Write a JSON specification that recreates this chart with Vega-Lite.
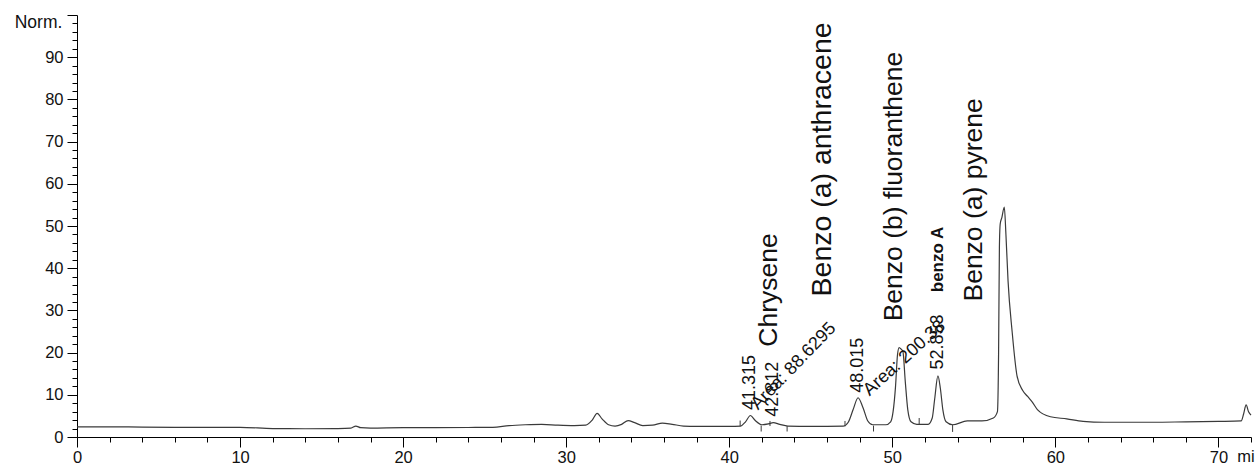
{
  "$schema": "https://vega.github.io/schema/vega-lite/v6.json",
  "width": 1174,
  "height": 422,
  "autosize": {"type": "none"},
  "padding": {"left": 77, "top": 15, "right": 4, "bottom": 27},
  "background": "white",
  "config": {"font": "Liberation Sans", "view": {"stroke": null}, "text": {"font": "Liberation Sans"}},
  "datasets": {
    "signal": [
      {"t": 0, "s": 2.4}, {"t": 2, "s": 2.4}, {"t": 4, "s": 2.35}, {"t": 6, "s": 2.3}, {"t": 8, "s": 2.3}, {"t": 10, "s": 2.3},
      {"t": 12, "s": 2.0}, {"t": 14, "s": 1.95}, {"t": 16, "s": 2.0}, {"t": 16.8, "s": 2.1}, {"t": 17.1, "s": 2.6}, {"t": 17.4, "s": 2.2},
      {"t": 18, "s": 2.1}, {"t": 20, "s": 2.2}, {"t": 22, "s": 2.2}, {"t": 24, "s": 2.25}, {"t": 25.5, "s": 2.3}, {"t": 26.5, "s": 2.7},
      {"t": 27.5, "s": 2.9}, {"t": 28.5, "s": 3.0}, {"t": 29.5, "s": 2.8}, {"t": 30.5, "s": 2.7}, {"t": 31.2, "s": 2.8}, {"t": 31.6, "s": 4.0},
      {"t": 31.9, "s": 5.6}, {"t": 32.2, "s": 4.3}, {"t": 32.6, "s": 2.9}, {"t": 33.0, "s": 2.6}, {"t": 33.4, "s": 3.0}, {"t": 33.8, "s": 3.9},
      {"t": 34.2, "s": 3.4}, {"t": 34.7, "s": 2.7}, {"t": 35.3, "s": 2.8}, {"t": 35.9, "s": 3.3}, {"t": 36.5, "s": 3.0}, {"t": 37.2, "s": 2.6},
      {"t": 38, "s": 2.5}, {"t": 40, "s": 2.5}, {"t": 40.7, "s": 2.6}, {"t": 41.0, "s": 3.6}, {"t": 41.3, "s": 5.1}, {"t": 41.6, "s": 3.9},
      {"t": 42.0, "s": 2.9}, {"t": 42.4, "s": 3.1}, {"t": 42.7, "s": 3.4}, {"t": 43.1, "s": 3.0}, {"t": 43.6, "s": 2.6}, {"t": 45, "s": 2.5},
      {"t": 47.0, "s": 2.6}, {"t": 47.3, "s": 3.5}, {"t": 47.6, "s": 6.5}, {"t": 47.9, "s": 9.3}, {"t": 48.2, "s": 7.0}, {"t": 48.5, "s": 3.8},
      {"t": 48.8, "s": 2.9}, {"t": 49.6, "s": 2.9}, {"t": 49.9, "s": 3.6}, {"t": 50.05, "s": 6}, {"t": 50.2, "s": 12}, {"t": 50.32, "s": 19.5},
      {"t": 50.42, "s": 21.2}, {"t": 50.55, "s": 20.8}, {"t": 50.65, "s": 20.3}, {"t": 50.8, "s": 13}, {"t": 50.95, "s": 6.5}, {"t": 51.15, "s": 3.6},
      {"t": 51.5, "s": 3.0}, {"t": 52.2, "s": 3.0}, {"t": 52.45, "s": 4.5}, {"t": 52.6, "s": 9}, {"t": 52.8, "s": 14.5}, {"t": 52.95, "s": 11.5},
      {"t": 53.1, "s": 6.5}, {"t": 53.3, "s": 3.6}, {"t": 53.7, "s": 2.9}, {"t": 54.6, "s": 3.8}, {"t": 55.5, "s": 3.8}, {"t": 56.2, "s": 4.5},
      {"t": 56.45, "s": 6}, {"t": 56.52, "s": 20}, {"t": 56.57, "s": 45}, {"t": 56.62, "s": 50.5}, {"t": 56.72, "s": 52}, {"t": 56.87, "s": 54.5},
      {"t": 56.97, "s": 48}, {"t": 57.1, "s": 37}, {"t": 57.35, "s": 25}, {"t": 57.65, "s": 14.5}, {"t": 58.0, "s": 11}, {"t": 58.3, "s": 9.6},
      {"t": 58.6, "s": 8.2}, {"t": 58.9, "s": 6.5}, {"t": 59.7, "s": 4.8}, {"t": 60.7, "s": 4.3}, {"t": 61.7, "s": 3.7}, {"t": 63, "s": 3.5},
      {"t": 64, "s": 3.5}, {"t": 66, "s": 3.5}, {"t": 68, "s": 3.6}, {"t": 70, "s": 3.7}, {"t": 71.4, "s": 3.8}, {"t": 71.55, "s": 5.5},
      {"t": 71.7, "s": 7.6}, {"t": 71.85, "s": 6.0}, {"t": 72, "s": 5.2}
    ],
    "ticks": [
      {"t": 40.67, "a": 2.6, "b": 3.9}, {"t": 41.96, "a": 1.3, "b": 2.7}, {"t": 42.5, "a": 2.6, "b": 3.8}, {"t": 43.55, "a": 1.3, "b": 2.6},
      {"t": 47.1, "a": 2.5, "b": 3.8}, {"t": 48.85, "a": 1.3, "b": 2.7}, {"t": 51.65, "a": 2.9, "b": 4.5}, {"t": 53.7, "a": 1.2, "b": 2.9}
    ],
    "names": [
      {"t": 42.45, "s": 21.4, "name": "Chrysene"},
      {"t": 50.1, "s": 27.4, "name": "Benzo (b) fluoranthene"},
      {"t": 55.0, "s": 32.1, "name": "Benzo (a) pyrene"}
    ],
    "anthracene": [{"t": 45.7, "s": 33.3, "name": "Benzo (a) anthracene"}],
    "benzoA": [{"t": 52.8, "s": 34.3, "name": "benzo A"}],
    "rt": [
      {"t": 41.3, "s": 6.4, "name": "41.315"},
      {"t": 42.7, "s": 4.8, "name": "42.812"},
      {"t": 47.9, "s": 10.5, "name": "48.015"},
      {"t": 52.8, "s": 16.0, "name": "52.853"}
    ],
    "area1": [{"t": 41.55, "s": 7.1, "name": "Area: 88.6295"}],
    "area2": [{"t": 48.4, "s": 10.5, "name": "Area: 200.38"}],
    "normLabel": [{"t": -0.9, "s": 98.1, "name": "Norm."}],
    "unitLabel": [{"t": 71.15, "s": -4.8, "name": "mi"}]
  },
  "resolve": {"axis": {"x": "independent", "y": "independent"}},
  "layer": [
    {
      "data": {"name": "signal"},
      "mark": {"type": "line", "color": "#3a3a3a", "strokeWidth": 1.2, "interpolate": "monotone"},
      "encoding": {
        "x": {"field": "t", "type": "quantitative", "scale": {"domain": [0, 72], "nice": false, "zero": false},
          "axis": {"orient": "bottom", "values": [0, 10, 20, 30, 40, 50, 60, 70], "title": null, "grid": false,
            "domainColor": "#000", "tickColor": "#000", "tickSize": 10, "labelFontSize": 16.5, "labelColor": "#111",
            "labelPadding": 2, "labelFlush": false, "labelOverlap": false}},
        "y": {"field": "s", "type": "quantitative", "scale": {"domain": [0, 100], "nice": false},
          "axis": {"orient": "left", "values": [0, 10, 20, 30, 40, 50, 60, 70, 80, 90, 100], "title": null, "grid": false,
            "labelExpr": "datum.value == 100 ? '' : datum.label",
            "domainColor": "#000", "tickColor": "#000", "tickSize": 10, "labelFontSize": 16.5, "labelColor": "#111",
            "labelPadding": 4, "labelFlush": false, "labelOverlap": false}}
      }
    },
    {
      "data": {"name": "ticks"},
      "mark": {"type": "rule", "color": "#3a3a3a", "strokeWidth": 1},
      "encoding": {
        "x": {"field": "t", "type": "quantitative", "scale": {"domain": [0, 72], "nice": false, "zero": false},
          "axis": {"orient": "bottom", "values": [2, 4, 6, 8, 12, 14, 16, 18, 22, 24, 26, 28, 32, 34, 36, 38, 42, 44, 46, 48, 52, 54, 56, 58, 62, 64, 66, 68, 72],
            "labels": false, "title": null, "grid": false, "domain": false, "tickColor": "#000", "tickSize": 5}},
        "y": {"field": "a", "type": "quantitative", "scale": {"domain": [0, 100], "nice": false},
          "axis": {"orient": "left", "values": [2, 4, 6, 8, 12, 14, 16, 18, 22, 24, 26, 28, 32, 34, 36, 38, 42, 44, 46, 48, 52, 54, 56, 58, 62, 64, 66, 68, 72, 74, 76, 78, 82, 84, 86, 88, 92, 94, 96, 98],
            "labels": false, "title": null, "grid": false, "domain": false, "tickColor": "#000", "tickSize": 5}},
        "y2": {"field": "b"}
      }
    },
    {
      "data": {"name": "names"},
      "mark": {"type": "text", "angle": 270, "align": "left", "baseline": "middle", "fontSize": 26.5, "color": "#111"},
      "encoding": {
        "x": {"field": "t", "type": "quantitative", "axis": null},
        "y": {"field": "s", "type": "quantitative", "axis": null},
        "text": {"field": "name"}
      }
    },
    {
      "data": {"name": "anthracene"},
      "mark": {"type": "text", "angle": 270, "align": "left", "baseline": "middle", "fontSize": 28.5, "color": "#111"},
      "encoding": {
        "x": {"field": "t", "type": "quantitative", "axis": null},
        "y": {"field": "s", "type": "quantitative", "axis": null},
        "text": {"field": "name"}
      }
    },
    {
      "data": {"name": "benzoA"},
      "mark": {"type": "text", "angle": 270, "align": "left", "baseline": "middle", "fontSize": 17, "fontWeight": "bold", "color": "#111"},
      "encoding": {
        "x": {"field": "t", "type": "quantitative", "axis": null},
        "y": {"field": "s", "type": "quantitative", "axis": null},
        "text": {"field": "name"}
      }
    },
    {
      "data": {"name": "rt"},
      "mark": {"type": "text", "angle": 270, "align": "left", "baseline": "middle", "fontSize": 18, "color": "#111"},
      "encoding": {
        "x": {"field": "t", "type": "quantitative", "axis": null},
        "y": {"field": "s", "type": "quantitative", "axis": null},
        "text": {"field": "name"}
      }
    },
    {
      "data": {"name": "area1"},
      "mark": {"type": "text", "angle": 314, "align": "left", "baseline": "middle", "fontSize": 18, "color": "#111"},
      "encoding": {
        "x": {"field": "t", "type": "quantitative", "axis": null},
        "y": {"field": "s", "type": "quantitative", "axis": null},
        "text": {"field": "name"}
      }
    },
    {
      "data": {"name": "area2"},
      "mark": {"type": "text", "angle": 318, "align": "left", "baseline": "middle", "fontSize": 18, "color": "#111"},
      "encoding": {
        "x": {"field": "t", "type": "quantitative", "axis": null},
        "y": {"field": "s", "type": "quantitative", "axis": null},
        "text": {"field": "name"}
      }
    },
    {
      "data": {"name": "normLabel"},
      "mark": {"type": "text", "align": "right", "baseline": "middle", "fontSize": 17.5, "color": "#111"},
      "encoding": {
        "x": {"field": "t", "type": "quantitative", "axis": null},
        "y": {"field": "s", "type": "quantitative", "axis": null},
        "text": {"field": "name"}
      }
    },
    {
      "data": {"name": "unitLabel"},
      "mark": {"type": "text", "align": "left", "baseline": "middle", "fontSize": 16.5, "color": "#111"},
      "encoding": {
        "x": {"field": "t", "type": "quantitative", "axis": null},
        "y": {"field": "s", "type": "quantitative", "axis": null},
        "text": {"field": "name"}
      }
    }
  ]
}
